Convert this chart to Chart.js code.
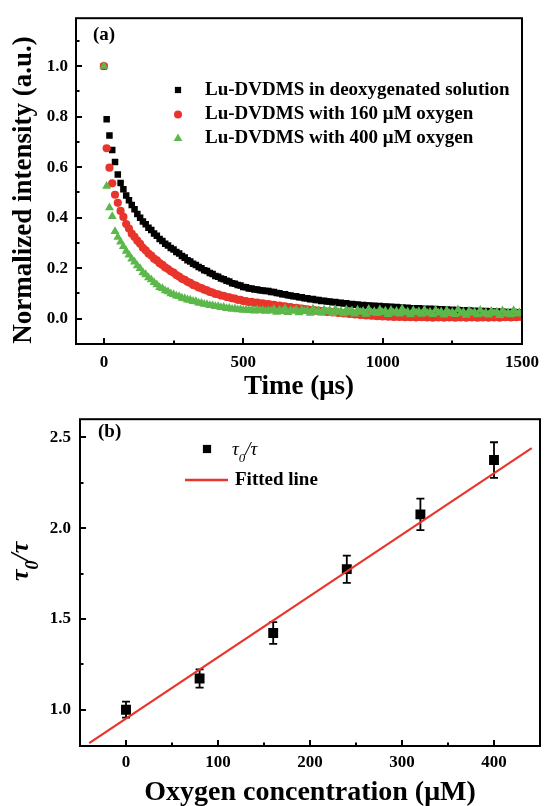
<!DOCTYPE html>
<html>
<head>
<meta charset="utf-8">
<script src="https://cdn.jsdelivr.net/npm/chart.js@4.4.1/dist/chart.umd.min.js"></script>
<style>
  html, body { margin: 0; padding: 0; background: #fff; }
  #wrap { position: relative; width: 547px; height: 806px; overflow: hidden; }
  canvas { position: absolute; left: 0; }
  #decay { top: 0; }
  #stern { top: 400px; }
</style>
</head>
<body>
<div id="wrap">
  <canvas id="decay" width="547" height="420"></canvas>
  <canvas id="stern" width="547" height="406"></canvas>
</div>
<script>
// ---- panel (a): normalized phosphorescence decay, one point every 10 us ----
const timeStepUs = 10;
const deoxyIntensity = [
  1.000, 0.790, 0.726, 0.668, 0.621, 0.571, 0.537, 0.513, 0.488, 0.469,
  0.450, 0.434, 0.415, 0.400, 0.385, 0.374, 0.360, 0.351, 0.338, 0.329,
  0.316, 0.308, 0.297, 0.290, 0.280, 0.274, 0.264, 0.258, 0.248, 0.242,
  0.232, 0.227, 0.218, 0.213, 0.205, 0.200, 0.192, 0.189, 0.181, 0.177,
  0.169, 0.166, 0.159, 0.156, 0.150, 0.147, 0.141, 0.139, 0.134, 0.132,
  0.126, 0.125, 0.120, 0.120, 0.116, 0.116, 0.113, 0.112, 0.110, 0.110,
  0.106, 0.106, 0.102, 0.101, 0.097, 0.097, 0.093, 0.092, 0.089, 0.089,
  0.085, 0.085, 0.081, 0.081, 0.077, 0.078, 0.074, 0.074, 0.070, 0.071,
  0.068, 0.068, 0.065, 0.066, 0.062, 0.063, 0.060, 0.061, 0.057, 0.058,
  0.055, 0.056, 0.053, 0.054, 0.051, 0.052, 0.050, 0.051, 0.049, 0.050,
  0.047, 0.048, 0.046, 0.047, 0.045, 0.046, 0.043, 0.045, 0.042, 0.044,
  0.041, 0.042, 0.040, 0.042, 0.039, 0.040, 0.038, 0.040, 0.037, 0.039,
  0.036, 0.038, 0.035, 0.037, 0.034, 0.036, 0.033, 0.035, 0.032, 0.034,
  0.031, 0.033, 0.030, 0.032, 0.030, 0.031, 0.029, 0.031, 0.028, 0.030,
  0.027, 0.029, 0.026, 0.028, 0.026, 0.027, 0.025, 0.027, 0.024, 0.026,
  0.024
];
const oxy160Intensity = [
  1.000, 0.675, 0.598, 0.536, 0.491, 0.459, 0.427, 0.403, 0.375, 0.357,
  0.337, 0.324, 0.309, 0.297, 0.281, 0.271, 0.258, 0.250, 0.238, 0.231,
  0.220, 0.213, 0.203, 0.197, 0.188, 0.183, 0.173, 0.167, 0.158, 0.154,
  0.146, 0.142, 0.134, 0.131, 0.124, 0.121, 0.115, 0.112, 0.106, 0.104,
  0.098, 0.097, 0.092, 0.091, 0.086, 0.085, 0.081, 0.080, 0.075, 0.075,
  0.070, 0.070, 0.066, 0.067, 0.063, 0.064, 0.060, 0.061, 0.057, 0.058,
  0.055, 0.055, 0.051, 0.052, 0.048, 0.049, 0.045, 0.046, 0.042, 0.043,
  0.040, 0.040, 0.037, 0.037, 0.034, 0.035, 0.032, 0.032, 0.029, 0.030,
  0.027, 0.028, 0.025, 0.026, 0.023, 0.024, 0.021, 0.022, 0.019, 0.020,
  0.017, 0.018, 0.015, 0.016, 0.013, 0.014, 0.012, 0.013, 0.010, 0.012,
  0.009, 0.011, 0.008, 0.010, 0.007, 0.009, 0.007, 0.009, 0.006, 0.008,
  0.006, 0.008, 0.005, 0.008, 0.006, 0.007, 0.005, 0.008, 0.004, 0.007,
  0.005, 0.008, 0.004, 0.007, 0.005, 0.008, 0.004, 0.006, 0.005, 0.007,
  0.004, 0.007, 0.005, 0.008, 0.004, 0.006, 0.005, 0.007, 0.004, 0.007,
  0.005, 0.008, 0.004, 0.007, 0.006, 0.008, 0.005, 0.007, 0.006, 0.008,
  0.007
];
const oxy400Intensity = [
  1.000, 0.525, 0.440, 0.405, 0.346, 0.323, 0.304, 0.286, 0.268, 0.253,
  0.237, 0.225, 0.210, 0.199, 0.183, 0.175, 0.163, 0.155, 0.144, 0.135,
  0.124, 0.120, 0.111, 0.107, 0.099, 0.096, 0.090, 0.088, 0.082, 0.080,
  0.075, 0.074, 0.069, 0.068, 0.063, 0.062, 0.058, 0.057, 0.053, 0.053,
  0.049, 0.049, 0.045, 0.046, 0.041, 0.042, 0.038, 0.040, 0.036, 0.037,
  0.034, 0.036, 0.033, 0.035, 0.031, 0.036, 0.032, 0.034, 0.030, 0.033,
  0.031, 0.038, 0.026, 0.035, 0.029, 0.040, 0.025, 0.034, 0.030, 0.037,
  0.024, 0.036, 0.029, 0.033, 0.022, 0.039, 0.027, 0.031, 0.023, 0.035,
  0.028, 0.033, 0.021, 0.037, 0.026, 0.030, 0.020, 0.036, 0.025, 0.032,
  0.019, 0.035, 0.026, 0.030, 0.018, 0.038, 0.024, 0.029, 0.021, 0.036,
  0.025, 0.031, 0.017, 0.034, 0.023, 0.030, 0.019, 0.039, 0.024, 0.028,
  0.016, 0.033, 0.024, 0.029, 0.018, 0.035, 0.022, 0.027, 0.017, 0.034,
  0.023, 0.028, 0.015, 0.033, 0.021, 0.026, 0.017, 0.036, 0.022, 0.027,
  0.014, 0.031, 0.022, 0.026, 0.016, 0.034, 0.020, 0.025, 0.015, 0.030,
  0.022, 0.027, 0.013, 0.032, 0.019, 0.024, 0.016, 0.033, 0.020, 0.025,
  0.019
];
const decayNames = [
  'Lu-DVDMS in deoxygenated solution',
  'Lu-DVDMS with 160 \u03bcM oxygen',
  'Lu-DVDMS with 400 \u03bcM oxygen'
];
const decayXTicks = [0, 500, 1000, 1500];
const decayXMinor = [250, 750, 1250];
const decayYTicks = [0, 0.2, 0.4, 0.6, 0.8, 1.0];
const decayYMinor = [0.1, 0.3, 0.5, 0.7, 0.9, 1.1];

// ---- panel (b): Stern-Volmer plot ----
const oxygenUM = [0, 80, 160, 240, 320, 400];
const tauRatio = [1.000, 1.172, 1.422, 1.774, 2.076, 2.375];
const tauRatioErr = [0.044, 0.050, 0.060, 0.075, 0.087, 0.098];
const fitX = [-40, 441];
const fitY = [0.816, 2.441];
const svXTicks = [0, 100, 200, 300, 400];
const svXMinor = [50, 150, 250, 350];
const svYTicks = [1.0, 1.5, 2.0, 2.5];
const svYMinor = [1.25, 1.75, 2.25];

const RED = '#e8352c';
const GREEN = '#5cb84a';
const serif = "'Liberation Serif', 'Times New Roman', 'DejaVu Serif', serif";

Chart.defaults.font.family = serif;
Chart.defaults.color = '#000';
Chart.defaults.animation = false;

const timeUs = deoxyIntensity.map((_, i) => i * timeStepUs);
const toXY = (xs, ys) => xs.map((x, i) => ({ x: x, y: ys[i] }));

// frame + inward ticks, Origin style
function drawFrame(chart, xMajor, xMinor, yMajor, yMinor) {
    const ctx = chart.ctx, a = chart.chartArea;
    const xs = chart.scales.x, ys = chart.scales.y;
    ctx.save();
    ctx.strokeStyle = '#000';
    ctx.lineWidth = 2;
    ctx.beginPath();
    xMajor.forEach(v => { const p = Math.round(xs.getPixelForValue(v)); ctx.moveTo(p, a.bottom); ctx.lineTo(p, a.bottom - 6); });
    xMinor.forEach(v => { const p = Math.round(xs.getPixelForValue(v)); ctx.moveTo(p, a.bottom); ctx.lineTo(p, a.bottom - 3.5); });
    yMajor.forEach(v => { const p = Math.round(ys.getPixelForValue(v)); ctx.moveTo(a.left, p); ctx.lineTo(a.left + 6, p); });
    yMinor.forEach(v => { const p = Math.round(ys.getPixelForValue(v)); ctx.moveTo(a.left, p); ctx.lineTo(a.left + 3.5, p); });
    ctx.stroke();
    ctx.strokeRect(a.left, a.top, a.right - a.left, a.bottom - a.top);
    ctx.restore();
}

// tau_0 / tau with a real subscript
function drawTauRatio(ctx, x, y, size, weight) {
    ctx.textAlign = 'left';
    ctx.textBaseline = 'alphabetic';
    ctx.font = 'italic ' + weight + ' ' + size + 'px ' + serif;
    ctx.fillText('\u03c4', x, y);
    x += ctx.measureText('\u03c4').width;
    const sub = Math.round(size * 0.7);
    ctx.font = 'italic ' + weight + ' ' + sub + 'px ' + serif;
    ctx.fillText('0', x, y + size * 0.38);
    x += ctx.measureText('0').width;
    ctx.font = 'italic ' + weight + ' ' + size + 'px ' + serif;
    ctx.fillText('/\u03c4', x, y);
}

const decayDecor = {
    id: 'decayDecor',
    afterDraw(chart) {
        drawFrame(chart, decayXTicks, decayXMinor, decayYTicks, decayYMinor);
        const ctx = chart.ctx, a = chart.chartArea;
        ctx.save();
        ctx.fillStyle = '#000';
        ctx.textBaseline = 'middle';

        ctx.font = 'bold 19px ' + serif;
        ctx.textAlign = 'left';
        ctx.fillText('(a)', 93, 35);

        // legend
        const styles = [['rect', 4.4, '#000'], ['circle', 4, RED], ['triangle', 5, GREEN]];
        const rows = [90, 114.5, 138.5];
        styles.forEach((s, i) => {
            ctx.fillStyle = s[2];
            Chart.helpers.drawPoint(ctx, { pointStyle: s[0], radius: s[1], rotation: 0, borderWidth: 0 }, 178, rows[i]);
            ctx.fillStyle = '#000';
            ctx.font = 'bold 19px ' + serif;
            ctx.textBaseline = 'middle';
            ctx.fillText(decayNames[i], 205, rows[i]);
        });

        // axis titles
        ctx.font = 'bold 27px ' + serif;
        ctx.textAlign = 'center';
        ctx.fillText('Time (\u03bcs)', (a.left + a.right) / 2, 387);
        ctx.translate(24, 190);
        ctx.rotate(-Math.PI / 2);
        ctx.fillText('Normalized intensity (a.u.)', 0, 0);
        ctx.restore();
    }
};

const sternDecor = {
    id: 'sternDecor',
    beforeDatasetsDraw(chart) {
        // error bars under the squares
        const ctx = chart.ctx, xs = chart.scales.x, ys = chart.scales.y;
        ctx.save();
        ctx.strokeStyle = '#000';
        ctx.lineWidth = 1.8;
        ctx.beginPath();
        oxygenUM.forEach((c, i) => {
            const px = xs.getPixelForValue(c);
            const top = ys.getPixelForValue(tauRatio[i] + tauRatioErr[i]);
            const bot = ys.getPixelForValue(tauRatio[i] - tauRatioErr[i]);
            ctx.moveTo(px, top); ctx.lineTo(px, bot);
            ctx.moveTo(px - 4, top); ctx.lineTo(px + 4, top);
            ctx.moveTo(px - 4, bot); ctx.lineTo(px + 4, bot);
        });
        ctx.stroke();
        ctx.restore();
    },
    afterDraw(chart) {
        drawFrame(chart, svXTicks, svXMinor, svYTicks, svYMinor);
        const ctx = chart.ctx, a = chart.chartArea;
        ctx.save();
        ctx.fillStyle = '#000';
        ctx.textBaseline = 'middle';
        ctx.textAlign = 'left';
        ctx.font = 'bold 19px ' + serif;
        ctx.fillText('(b)', 98, 32);

        // legend
        Chart.helpers.drawPoint(ctx, { pointStyle: 'rect', radius: 5.8, rotation: 0, borderWidth: 0 }, 207, 49);
        drawTauRatio(ctx, 232, 55, 19, 'normal');
        ctx.strokeStyle = RED;
        ctx.lineWidth = 2.5;
        ctx.beginPath();
        ctx.moveTo(185, 80); ctx.lineTo(228, 80);
        ctx.stroke();
        ctx.textBaseline = 'middle';
        ctx.font = 'bold 19px ' + serif;
        ctx.fillText('Fitted line', 235, 80);

        // axis titles
        ctx.font = 'bold 28px ' + serif;
        ctx.textAlign = 'center';
        ctx.fillText('Oxygen concentration (\u03bcM)', (a.left + a.right) / 2, 393);
        ctx.translate(28, 181);
        ctx.rotate(-Math.PI / 2);
        drawTauRatio(ctx, 0, 0, 26, 'bold');
        ctx.restore();
    }
};

function axis(min, max, ticks, fmt, pad, fitFn) {
    return {
        type: 'linear',
        min: min,
        max: max,
        afterBuildTicks: s => { s.ticks = ticks.map(v => ({ value: v })); },
        afterFit: fitFn,
        grid: { display: false, drawTicks: false },
        border: { display: false },
        ticks: {
            font: { size: 17, weight: 'bold' },
            padding: pad,
            maxRotation: 0,
            autoSkip: false,
            callback: fmt
        }
    };
}

new Chart(document.getElementById('decay'), {
    type: 'scatter',
    data: {
        datasets: [
            { label: decayNames[0], data: toXY(timeUs, deoxyIntensity), pointStyle: 'rect', pointRadius: 4.6,
              backgroundColor: '#000', borderWidth: 0, order: 2 },
            { label: decayNames[1], data: toXY(timeUs, oxy160Intensity), pointStyle: 'circle', pointRadius: 4.1,
              backgroundColor: RED, borderWidth: 0, order: 1 },
            { label: decayNames[2], data: toXY(timeUs, oxy400Intensity), pointStyle: 'triangle', pointRadius: 5.2,
              backgroundColor: GREEN, borderWidth: 0, order: 0 }
        ]
    },
    options: {
        responsive: false,
        events: [],
        layout: { padding: { top: 13, right: 17, left: 0, bottom: 0 } },
        plugins: { legend: { display: false }, tooltip: { enabled: false } },
        scales: {
            x: axis(-100, 1500, decayXTicks, v => String(v), 8, s => { s.height = 76; }),
            y: axis(-0.1, 1.19, decayYTicks, v => v.toFixed(1), 8, s => { s.width = 76; })
        }
    },
    plugins: [decayDecor]
});

new Chart(document.getElementById('stern'), {
    type: 'scatter',
    data: {
        datasets: [
            { label: 'Fitted line', data: toXY(fitX, fitY), showLine: true, borderColor: RED, borderWidth: 2.2,
              pointRadius: 0, order: 0 },
            { label: '\u03c40/\u03c4', data: toXY(oxygenUM, tauRatio), pointStyle: 'rect', pointRadius: 7,
              backgroundColor: '#000', borderWidth: 0, order: 1 }
        ]
    },
    options: {
        responsive: false,
        events: [],
        layout: { padding: { top: 8, right: 4, left: 0, bottom: 0 } },
        plugins: { legend: { display: false }, tooltip: { enabled: false } },
        scales: {
            x: axis(-50, 450, svXTicks, v => String(v), 6, s => { s.height = 60; }),
            y: axis(0.8, 2.6, svYTicks, v => v.toFixed(1), 9, s => { s.width = 80; })
        }
    },
    plugins: [sternDecor]
});
</script>
</body>
</html>
